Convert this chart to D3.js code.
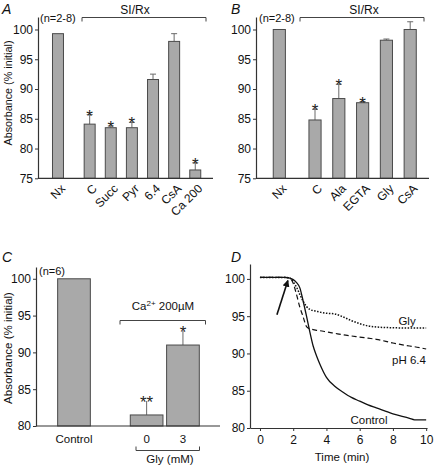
<!DOCTYPE html>
<html><head><meta charset="utf-8">
<script src="https://cdn.jsdelivr.net/npm/d3@7"></script>
<style>
html,body{margin:0;padding:0;background:#fff;}
svg{display:block;}
</style></head>
<body>
<script>
// ---------- DATA ----------
const catsA = ["Nx","C","Succ","Pyr","6.4","CsA","Ca 200"];
const valsA = [99.3,84.1,83.5,83.5,91.6,98.0,76.4];
const errA  = [0,1.6,0.3,0.9,0.9,1.3,1.2];
const starsA = ["","*","*","*","","","*"];

const catsB = ["Nx","C","Ala","EGTA","Gly","CsA"];
const valsB = [100.0,84.8,88.4,87.7,98.2,100.0];
const errB  = [0,1.8,2.4,0.2,0.2,1.3];
const starsB = ["","*","*","*","",""];

const yTicksAB = [75,80,85,90,95,100];

const catsC = ["Control","0","3"];
const valsC = [100.0,81.5,91.0];
const errC  = [0,1.9,1.9];
const starsC = ["","**","*"];
const yTicksC = [80,85,90,95,100];

const timeD   = [0,1.5,1.8,2.0,2.2,2.4,2.6,2.8,3.0,3.2,3.4,3.6,4.0,4.5,5,5.5,6,6.5,7,8,9,9.3,10];
const controlD= [100.2,100.2,100.1,99.9,99.5,98.8,97.0,95.0,92.9,91.0,89.7,88.6,86.8,85.6,84.8,84.1,83.6,83.1,82.7,81.9,81.3,81.1,81.1];
const ph64D   = [100.2,100.2,100.1,99.4,97.9,96.2,94.9,93.6,93.3,93.2,93.1,93.05,92.9,92.7,92.5,92.35,92.2,92.05,91.9,91.4,91.0,90.9,90.6];
const glyD    = [100.2,100.2,100.1,99.6,98.9,97.9,97.0,96.3,95.9,95.75,95.65,95.55,95.4,95.3,94.9,94.4,94.0,93.7,93.55,93.45,93.4,93.4,93.4];
const xTicksD = [0,2,4,6,8,10];
const yTicksD = [80,85,90,95,100];

// ---------- DRAW ----------
const FONT = "'Liberation Sans', Arial, Helvetica, sans-serif";
const W = 434, H = 474;
const svg = d3.select("body").append("svg").attr("width", W).attr("height", H)
  .style("font-family", FONT);

const BAR_FILL = "#a9a9a9", BAR_STROKE = "#4a4a4a", AX = "#333";

function yAxis(g, y, ticks, x) {
  const a = g.append("g").attr("transform", `translate(${x},0)`)
    .call(d3.axisLeft(y).tickValues(ticks).tickSize(3).tickPadding(2).tickSizeOuter(0));
  a.select(".domain").attr("stroke", AX).attr("stroke-width", 1.2);
  a.selectAll(".tick line").attr("stroke", AX);
  a.selectAll(".tick text").attr("fill", "#111").style("font-size", "12px").style("font-family", FONT);
  return a;
}

function barPanel(o) {
  const g = svg.append("g");
  const x = d3.scaleLinear().domain(o.xDomain).range([o.left, o.right]);
  const y = d3.scaleLinear().domain(o.yDomain).range([o.bottom, o.top]);
  const bw = (x(1) - x(0)) * o.barFrac;
  const data = o.cats.map((c, i) => ({c, v: o.vals[i], e: o.errs[i], s: o.stars[i], p: o.slotOf(i)}));

  const eb = g.selectAll(".eb").data(data.filter(d => d.e > 0)).join("g");
  eb.append("line").attr("x1", d => x(d.p)).attr("x2", d => x(d.p))
    .attr("y1", d => y(d.v)).attr("y2", d => y(d.v + d.e)).attr("stroke", "#6a6a6a").attr("stroke-width", 1);
  eb.append("line").attr("x1", d => x(d.p) - o.cap).attr("x2", d => x(d.p) + o.cap)
    .attr("y1", d => y(d.v + d.e)).attr("y2", d => y(d.v + d.e)).attr("stroke", "#6a6a6a").attr("stroke-width", 1);

  g.selectAll(".bar").data(data).join("rect")
    .attr("x", d => x(d.p) - bw / 2).attr("width", bw)
    .attr("y", d => y(d.v)).attr("height", d => y(o.yDomain[0]) - y(d.v))
    .attr("fill", BAR_FILL).attr("stroke", BAR_STROKE).attr("stroke-width", 1);

  g.selectAll(".star").data(data.filter(d => d.s)).join("text")
    .attr("x", d => x(d.p)).attr("y", d => y(d.v + d.e) + o.starDy)
    .attr("text-anchor", "middle").style("font-size", o.starSize + "px").attr("fill", "#222")
    .text(d => d.s);

  yAxis(g, y, o.yTicks, o.left);
  g.append("line").attr("x1", o.left).attr("x2", o.right).attr("y1", y(o.yDomain[0])).attr("y2", y(o.yDomain[0]))
    .attr("stroke", AX).attr("stroke-width", 1.2);

  if (o.rotate) {
    g.selectAll(".xl").data(data).join("text")
      .attr("transform", d => `translate(${x(d.p) + o.lblDx},${y(o.yDomain[0]) + o.lblDy}) rotate(-45)`)
      .attr("text-anchor", "end").attr("dy", "0.35em")
      .style("font-size", "12px").attr("fill", "#111").text(d => d.c);
  } else {
    g.selectAll(".xl").data(data).join("text")
      .attr("x", d => x(d.p)).attr("y", y(o.yDomain[0]) + 17)
      .attr("text-anchor", "middle").style("font-size", "11.5px").attr("fill", "#111").text(d => d.c);
  }
  return {g, x, y};
}

function bracket(g, x1, x2, yy, dir) {
  g.append("path").attr("d", `M${x1},${yy + dir * 4}V${yy}H${x2}V${yy + dir * 4}`)
    .attr("fill", "none").attr("stroke", "#444").attr("stroke-width", 1);
}
function label(txt, x, y, size, anchor, italic) {
  return svg.append("text").attr("x", x).attr("y", y).attr("text-anchor", anchor || "start")
    .style("font-size", size + "px").style("font-style", italic ? "italic" : "normal")
    .attr("fill", "#111").text(txt);
}

// Panel A
barPanel({cats: catsA, vals: valsA, errs: errA, stars: starsA,
  slotOf: i => i === 0 ? 0 : i + 0.5, xDomain: [-0.946, 7.34], left: 38, right: 213,
  yDomain: [75, 102.1], top: 17, bottom: 178.3, yTicks: yTicksAB, barFrac: 0.52, cap: 3,
  starDy: 7, starSize: 17, rotate: true, lblDx: 5, lblDy: 8});
label("A", 2, 14, 14, "start", true);
label("(n=2-8)", 40, 22, 11);
label("SI/Rx", 135, 14, 12, "middle");
bracket(svg, 82, 206, 17.5, 1);
svg.append("text").attr("transform", "translate(12,93) rotate(-90)").attr("text-anchor", "middle")
  .style("font-size", "10.8px").attr("fill", "#111").text("Absorbance (% initial)");

// Panel B
barPanel({cats: catsB, vals: valsB, errs: errB, stars: starsB,
  slotOf: i => i === 0 ? 0 : i + 0.5, xDomain: [-0.98, 6.29], left: 256, right: 429,
  yDomain: [75, 102.1], top: 17, bottom: 178.3, yTicks: yTicksAB, barFrac: 0.51, cap: 3,
  starDy: 7, starSize: 17, rotate: true, lblDx: 5, lblDy: 8});
label("B", 231, 14, 14, "start", true);
label("(n=2-8)", 259, 22, 11);
label("SI/Rx", 364, 14, 12, "middle");
bracket(svg, 300, 424, 17.5, 1);

// Panel C
barPanel({cats: catsC, vals: valsC, errs: errC, stars: starsC,
  slotOf: i => i === 0 ? 0 : i + 1, xDomain: [-1.046, 4.02], left: 36, right: 220,
  yDomain: [80, 101.6], top: 267, bottom: 426, yTicks: yTicksC, barFrac: 0.9, cap: 0,
  starDy: 7, starSize: 17, rotate: false});
label("C", 2, 262, 14, "start", true);
label("(n=6)", 39, 275, 11);
const caT = svg.append("text").attr("x", 163).attr("y", 310).attr("text-anchor", "middle")
  .style("font-size", "11.5px").attr("fill", "#111");
caT.append("tspan").text("Ca");
caT.append("tspan").attr("dy", -4).style("font-size", "8px").text("2+");
caT.append("tspan").attr("dy", 4).text(" 200\u00b5M");
bracket(svg, 120, 205.5, 320.5, 1);
bracket(svg, 136, 199.5, 450.5, -1);
label("Gly (mM)", 170, 463, 11.5, "middle");
svg.append("text").attr("transform", "translate(12,348) rotate(-90)").attr("text-anchor", "middle")
  .style("font-size", "11.5px").attr("fill", "#111").text("Absorbance (% initial)");

// Panel D
const xD = d3.scaleLinear().domain([-0.6, 10.05]).range([250, 427]);
const yD = d3.scaleLinear().domain([80, 102]).range([428, 264]);
const gD = svg.append("g");
yAxis(gD, yD, yTicksD, 250);
const xa = gD.append("g").attr("transform", "translate(0,428)")
  .call(d3.axisBottom(xD).tickValues(xTicksD).tickSize(3).tickPadding(4).tickSizeOuter(0));
xa.select(".domain").attr("stroke", AX).attr("stroke-width", 1.2);
xa.selectAll(".tick line").attr("stroke", AX);
xa.selectAll(".tick text").attr("fill", "#111").style("font-size", "12px").style("font-family", FONT);

const line = d3.line().x((d, i) => xD(timeD[i])).y(d => yD(d)).curve(d3.curveMonotoneX);
gD.append("path").attr("d", line(glyD)).attr("fill", "none").attr("stroke", "#111")
  .attr("stroke-width", 1.5).attr("stroke-dasharray", "1.5,1.5");
gD.append("path").attr("d", line(ph64D)).attr("fill", "none").attr("stroke", "#111")
  .attr("stroke-width", 1.2).attr("stroke-dasharray", "5,3");
gD.append("path").attr("d", line(controlD)).attr("fill", "none").attr("stroke", "#111")
  .attr("stroke-width", 1.3);

svg.append("defs").append("marker").attr("id", "ah").attr("viewBox", "0 0 10 10")
  .attr("refX", 9).attr("refY", 5).attr("markerWidth", 7).attr("markerHeight", 7)
  .attr("orient", "auto").attr("markerUnits", "userSpaceOnUse")
  .append("path").attr("d", "M0,0L10,5L0,10z").attr("fill", "#111");
gD.append("line").attr("x1", xD(1.02)).attr("y1", yD(95.2)).attr("x2", xD(1.68)).attr("y2", yD(99.8))
  .attr("stroke", "#111").attr("stroke-width", 1.6).attr("marker-end", "url(#ah)");

label("D", 231, 262, 14, "start", true);
label("Gly", 407, 325, 11.5, "middle");
label("pH 6.4", 409, 364, 11.5, "middle");
label("Control", 369, 424, 11.5, "middle");
label("Time (min)", 342, 461, 11.5, "middle");
</script>
</body></html>
